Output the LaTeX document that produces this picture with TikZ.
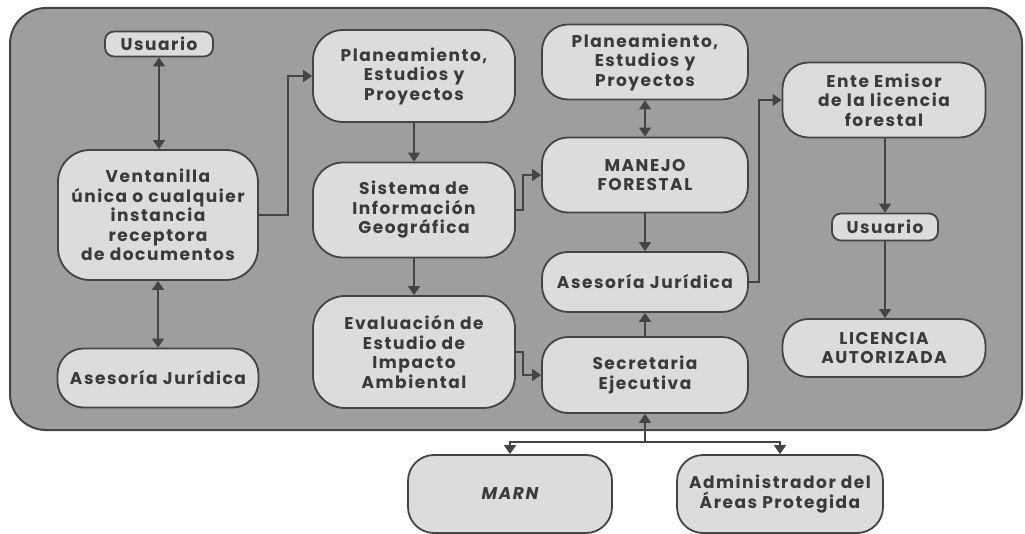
\documentclass[tikz,border=0pt]{standalone}
\usepackage{fontspec}
\setmainfont{Poppins}[LetterSpace=9]
\usetikzlibrary{arrows.meta}
\definecolor{bgray}{HTML}{9E9E9E}
\definecolor{ngray}{HTML}{DCDCDC}
\definecolor{lgray}{HTML}{444444}
\definecolor{tgray}{HTML}{3A3A3A}
\tikzset{
  box/.style={draw=lgray, line width=1.8pt, fill=ngray, rounded corners=26pt, align=center,
    inner sep=0pt, text=tgray, font=\fontsize{17}{19.5}\selectfont\bfseries},
  sbox/.style={box, rounded corners=9pt},
  arr/.style={draw=lgray, line width=1.2pt, -{Triangle[width=12pt,length=9pt]}},
  dbl/.style={draw=lgray, line width=1.2pt, {Triangle[width=12pt,length=9pt]}-{Triangle[width=12pt,length=9pt]}},
}
\begin{document}
\begin{tikzpicture}[x=1pt,y=-1pt]
\useasboundingbox (0,0) rectangle (1025,534);
\draw[draw=lgray, line width=2pt, fill=bgray, rounded corners=36pt] (10,8) rectangle (1022,430);
% left column
\node[sbox, minimum width=108pt, minimum height=25pt] (usr1) at (159,44) {Usuario};
\node[box, rounded corners=32pt, minimum width=200pt, minimum height=130pt] (vent) at (158,215) {Ventanilla\\única o cualquier\\instancia\\receptora\\de documentos};
\node[box, minimum width=201pt, minimum height=59pt] (as1) at (158,378) {Asesoría Jurídica};
% second column
\node[box, rounded corners=30pt, minimum width=202pt, minimum height=92pt] (plan1) at (414,76) {Planeamiento,\\Estudios y\\Proyectos};
\node[box, rounded corners=30pt, minimum width=202pt, minimum height=95pt] (sis) at (414,210) {Sistema de\\Información\\Geográfica};
\node[box, rounded corners=32pt, minimum width=202pt, minimum height=112pt] (eval) at (414,352) {Evaluación de\\Estudio de\\Impacto\\Ambiental};
% third column
\node[box, minimum width=206pt, minimum height=75pt] (plan2) at (645,62) {Planeamiento,\\Estudios y\\Proyectos};
\node[box, minimum width=206pt, minimum height=75pt] (man) at (645,175) {MANEJO\\FORESTAL};
\node[box, minimum width=206pt, minimum height=60pt] (as2) at (645,282) {Asesoría Jurídica};
\node[box, minimum width=206pt, minimum height=76pt] (sec) at (645,375) {Secretaria\\Ejecutiva};
% fourth column
\node[box, minimum width=203pt, minimum height=75pt] (ente) at (884,100) {Ente Emisor\\de la licencia\\forestal};
\node[sbox, minimum width=106pt, minimum height=27pt] (usr2) at (885,227) {Usuario};
\node[box, minimum width=203pt, minimum height=58pt] (lic) at (884,348) {LICENCIA\\AUTORIZADA};
% bottom
\node[box, minimum width=204pt, minimum height=78pt] (marn) at (510,494) {\itshape MARN};
\node[box, minimum width=206pt, minimum height=78pt] (adm) at (780,494) {Administrador del\\Áreas Protegida};
% connectors
\draw[dbl] (usr1.south) -- (usr1.south |- vent.north);
\draw[dbl] (vent.south) -- (vent.south |- as1.north);
\draw[arr] (vent.east) -- ++(29,0) |- (plan1.west);
\draw[arr] (plan1) -- (sis);
\draw[arr] (sis) -- (eval);
\draw[arr] (sis.east) -- ++(7,0) |- (man.west);
\draw[arr] (eval.east) -- ++(7,0) |- (sec.west);
\draw[dbl] (plan2) -- (man);
\draw[arr] (man) -- (as2);
\draw[arr] (sec) -- (as2);
\draw[arr] (as2.east) -- ++(10,0) |- (ente.west);
\draw[arr] (ente.south -| usr2.north) -- (usr2.north);
\draw[arr] (usr2.south) -- (usr2.south |- lic.north);
\coordinate (j) at (645,442);
\draw[arr] (j) -- (sec.south);
\draw[arr] (j) -| (marn.north);
\draw[arr] (j) -| (adm.north);
\end{tikzpicture}
\end{document}
